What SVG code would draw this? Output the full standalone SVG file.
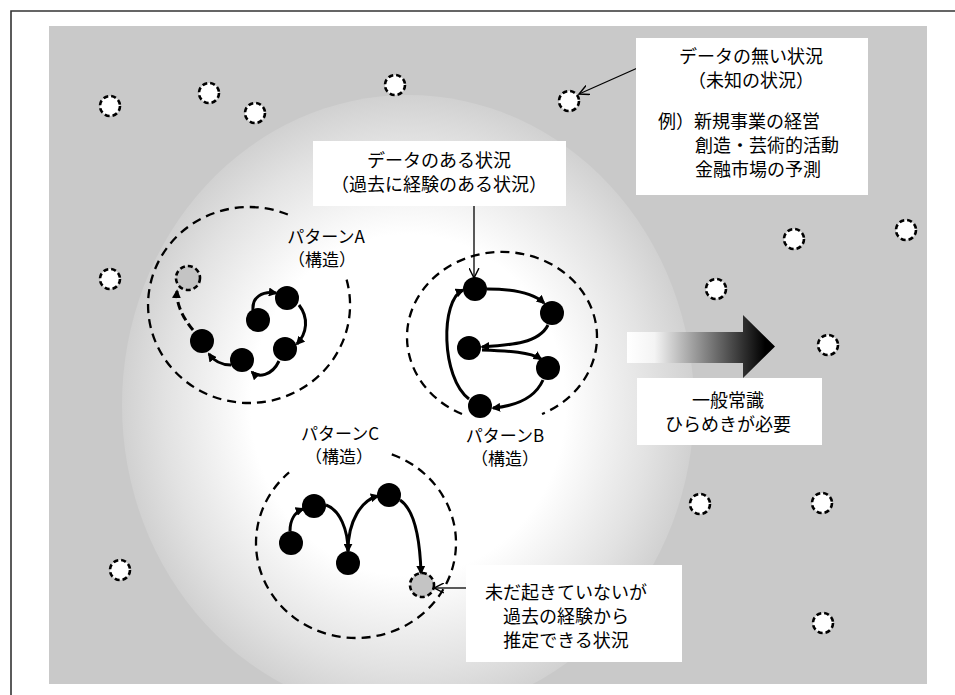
<svg xmlns="http://www.w3.org/2000/svg" width="955" height="695" viewBox="0 0 955 695">
<style>
text{font-family:"Noto Sans CJK JP","Liberation Sans",sans-serif;font-size:18px;fill:#000;text-anchor:middle}
.st{text-anchor:start}
.pl{font-size:17px}
.box{fill:#fff;stroke:none}
.unk{fill:#fff;stroke:#000;stroke-width:2.6;stroke-dasharray:5 3}
.pred{fill:#c4c4c4;stroke:#000;stroke-width:2.6;stroke-dasharray:5 3}
.pat{fill:none;stroke:#000;stroke-width:2.3;stroke-dasharray:9 6}
.node{fill:#000}
.edge{fill:none;stroke:#000;stroke-width:3;marker-end:url(#ah)}
.dash{stroke-dasharray:8 4}
.ptr{fill:none;stroke:#000;stroke-width:1.3;marker-end:url(#open)}
</style>
<defs>
<radialGradient id="glow" cx="408" cy="405" r="300" gradientUnits="userSpaceOnUse" gradientTransform="translate(408 405) scale(0.953 1.033) translate(-408 -405)">
<stop offset="0" stop-color="#fff"/>
<stop offset="0.55" stop-color="#fff"/>
<stop offset="0.85" stop-color="#e2e2e2"/>
<stop offset="1" stop-color="#d1d1d1"/>
</radialGradient>
<linearGradient id="arrowGrad" x1="627" y1="0" x2="765" y2="0" gradientUnits="userSpaceOnUse">
<stop offset="0" stop-color="#fff"/>
<stop offset="0.2" stop-color="#f4f4f4"/>
<stop offset="1" stop-color="#000"/>
</linearGradient>
<clipPath id="gclip"><rect x="49" y="26" width="878" height="658"/></clipPath>
<marker id="ah" viewBox="0 0 10 10" refX="8" refY="5" markerWidth="9" markerHeight="9" markerUnits="userSpaceOnUse" orient="auto">
<path d="M0,0 L10,5 L0,10 z" fill="#000"/>
</marker>
<marker id="open" viewBox="0 0 10 10" refX="9" refY="5" markerWidth="11" markerHeight="11" markerUnits="userSpaceOnUse" orient="auto">
<path d="M0,0.5 L9,5 L0,9.5" fill="none" stroke="#000" stroke-width="1.3"/>
</marker>
</defs>

<g id="background">
<rect x="0" y="0" width="955" height="695" fill="#fff"/>
<path d="M11,700 V11 H960" fill="none" stroke="#333" stroke-width="1.6"/>
<rect x="49" y="26" width="878" height="658" fill="#c9c9c9"/>
<ellipse cx="408" cy="405" rx="286" ry="310" fill="url(#glow)" clip-path="url(#gclip)"/>
</g>

<g id="unknown-situations">
<circle class="unk" cx="110" cy="106" r="10"/>
<circle class="unk" cx="209" cy="93" r="10"/>
<circle class="unk" cx="255" cy="113" r="10"/>
<circle class="unk" cx="395" cy="85" r="10"/>
<circle class="unk" cx="569" cy="101" r="10"/>
<circle class="unk" cx="794" cy="239" r="10"/>
<circle class="unk" cx="906" cy="230" r="10"/>
<circle class="unk" cx="110" cy="279" r="10"/>
<circle class="unk" cx="716" cy="289" r="10"/>
<circle class="unk" cx="828" cy="345" r="10"/>
<circle class="unk" cx="700" cy="504" r="10"/>
<circle class="unk" cx="822" cy="503" r="10"/>
<circle class="unk" cx="120" cy="570" r="10"/>
<circle class="unk" cx="823" cy="623" r="10"/>
</g>

<g id="big-arrow">
<path d="M627,332 H743 V315 L775,346.5 L743,378 V363 H627 z" fill="url(#arrowGrad)"/>
</g>

<g id="patternA">
<path class="pat" d="M346.6,279.6 A101,98 0 1 1 288.5,214.8"/>
<circle class="pred" cx="188" cy="278" r="12"/>
<circle class="node" cx="287" cy="298" r="12"/>
<circle class="node" cx="258" cy="320" r="12"/>
<circle class="node" cx="202" cy="341" r="12"/>
<circle class="node" cx="242" cy="360" r="12"/>
<circle class="node" cx="285" cy="349" r="12"/>
<text class="pl" x="326" y="243">パターンA</text>
<text class="pl" x="322" y="266">（構造）</text>
</g>

<g id="patternB">
<path class="pat" d="M462,414 A95,85 0 1 1 542,414"/>
<circle class="node" cx="475" cy="289" r="12"/>
<circle class="node" cx="552" cy="313" r="12"/>
<circle class="node" cx="469" cy="348" r="12"/>
<circle class="node" cx="548" cy="368" r="12"/>
<circle class="node" cx="480" cy="406" r="12"/>
<text class="pl" x="505" y="442">パターンB</text>
<text class="pl" x="505" y="465">（構造）</text>
</g>

<g id="patternC">
<path class="pat" d="M391.8,454.3 A100,95 0 1 1 289.1,472.4"/>
<circle class="pred" cx="422" cy="585" r="12"/>
<circle class="node" cx="291" cy="543" r="12"/>
<circle class="node" cx="314" cy="506" r="12"/>
<circle class="node" cx="348" cy="563" r="12"/>
<circle class="node" cx="389" cy="495" r="12"/>
<text class="pl" x="340" y="440">パターンC</text>
<text class="pl" x="339" y="463">（構造）</text>
</g>

<g id="connectors">
<path class="edge" d="M253,310 C252,297 262,291 276,293"/>
<path class="edge" d="M299,305 C309,318 307,333 297,344"/>
<path class="edge" d="M279,361 C272,376 258,378 252,372"/>
<path class="edge" d="M231,365 C222,365 214,361 209,354"/>
<path class="edge dash" d="M193,330 C183,318 176,304 177,291"/>
<path class="edge" d="M487,289 C510,289 533,293 544,303"/>
<path class="edge" d="M548,325 C539,343 512,345 482,347"/>
<path class="edge" d="M482,350 C510,351 530,352 541,359"/>
<path class="edge" d="M543,380 C535,398 515,406 493,408"/>
<path class="edge" d="M469,399 C441,378 440,300 463,290"/>
<path class="edge" d="M290,531 C290,520 295,512 303,509"/>
<path class="edge" d="M326,505 C340,510 348,530 348,551"/>
<path class="edge" d="M348,551 C348,520 362,500 378,496"/>
<path class="edge" d="M400,500 C415,510 420,540 421,573"/>
<path class="ptr" d="M660,58 L579,94"/>
<path class="ptr" d="M474,206 L474,278"/>
<path class="ptr" d="M466,588 L434,588"/>
</g>

<g id="label-nodata">
<rect class="box" x="636" y="38" width="232" height="157"/>
<text x="751" y="63">データの無い状況</text>
<text x="751" y="87">（未知の状況）</text>
<text class="st" x="658" y="128">例）新規事業の経営</text>
<text class="st" x="695" y="152">創造・芸術的活動</text>
<text class="st" x="695" y="176">金融市場の予測</text>
</g>

<g id="label-data">
<rect class="box" x="313" y="141" width="253" height="65"/>
<text x="439" y="167">データのある状況</text>
<text x="439" y="191">（過去に経験のある状況）</text>
</g>

<g id="label-common">
<rect class="box" x="637" y="378" width="185" height="67"/>
<text x="728" y="407">一般常識</text>
<text x="728" y="431">ひらめきが必要</text>
</g>

<g id="label-predict">
<rect class="box" x="466" y="565" width="216" height="97"/>
<text x="566" y="599">未だ起きていないが</text>
<text x="566" y="623">過去の経験から</text>
<text x="566" y="647">推定できる状況</text>
</g>
</svg>
